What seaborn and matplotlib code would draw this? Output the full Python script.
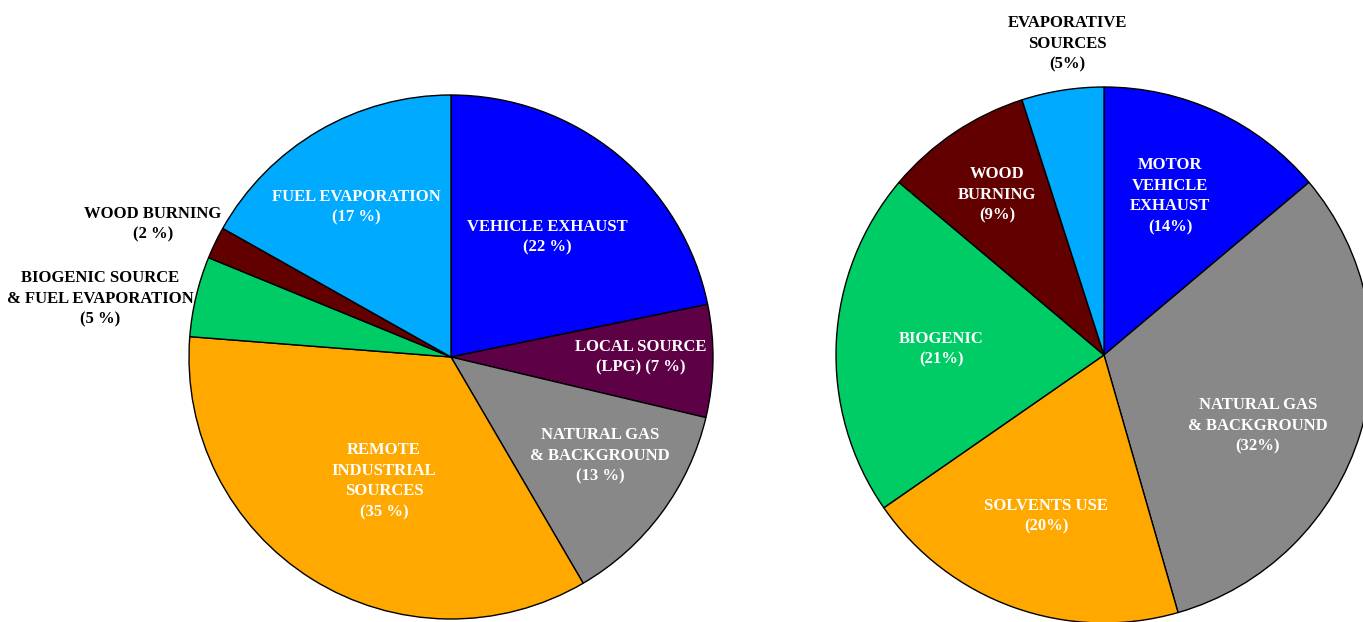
import matplotlib
matplotlib.use("Agg")
import matplotlib.pyplot as plt
import seaborn as sns

sns.set_theme(style="white")
plt.rcParams['font.family'] = ['Liberation Serif', 'DejaVu Serif']

# Left pie: source apportionment (site 1)
left_labels = ['VEHICLE EXHAUST\n(22 %)', 'LOCAL SOURCE\n(LPG) (7 %)',
               'NATURAL GAS\n& BACKGROUND\n(13 %)', 'REMOTE\nINDUSTRIAL\nSOURCES\n(35 %)',
               'BIOGENIC SOURCE\n& FUEL EVAPORATION\n(5 %)', 'WOOD BURNING\n(2 %)',
               'FUEL EVAPORATION\n(17 %)']
left_values = [22, 7, 13, 35, 5, 2, 17]
left_colors = ['#0000ff', '#5e0046', '#888888', '#ffa800', '#00cc66', '#620000', '#00aaff']
left_text_colors = ['white', 'white', 'white', 'white', 'black', 'black', 'white']

# Right pie: source apportionment (site 2)
right_labels = ['MOTOR\nVEHICLE\nEXHAUST\n(14%)', 'NATURAL GAS\n& BACKGROUND\n(32%)',
                'SOLVENTS USE\n(20%)', 'BIOGENIC\n(21%)', 'WOOD\nBURNING\n(9%)',
                'EVAPORATIVE\nSOURCES\n(5%)']
right_values = [14, 32, 20, 21, 9, 5]
right_colors = ['#0000ff', '#888888', '#ffa800', '#00cc66', '#620000', '#00aaff']
right_text_colors = ['white', 'white', 'white', 'white', 'white', 'black']

# label anchor points (pixel layout, y measured from top)
left_label_pos = [(547, 237), (641, 357), (600, 456), (384, 481),
                  (100, 299), (153, 224), (356, 207)]
right_label_pos = [(1170, 196), (1258, 426), (1046, 516), (941, 349),
                   (997, 195), (1067, 44)]

W, H = 1363, 622
fig = plt.figure(figsize=(W / 100, H / 100), dpi=100)
ax = fig.add_axes([0, 0, 1, 1])

wedge_style = dict(edgecolor='black', linewidth=1.0)
ax.pie(left_values, colors=left_colors, startangle=90, counterclock=False,
       center=(451, H - 357), radius=262, wedgeprops=wedge_style, normalize=True)
ax.pie(right_values, colors=right_colors, startangle=90, counterclock=False,
       center=(1104, H - 355), radius=268, wedgeprops=wedge_style, normalize=True)

for lab, (x, y), c in zip(left_labels, left_label_pos, left_text_colors):
    ax.text(x, H - y, lab, ha='center', va='center', color=c, fontsize=12,
            fontweight='bold', linespacing=1.4)
for lab, (x, y), c in zip(right_labels, right_label_pos, right_text_colors):
    ax.text(x, H - y, lab, ha='center', va='center', color=c, fontsize=12,
            fontweight='bold', linespacing=1.4)

ax.set_xlim(0, W)
ax.set_ylim(0, H)
ax.set_aspect('equal')
ax.axis('off')

plt.savefig('out.png', dpi=100)
plt.close()
